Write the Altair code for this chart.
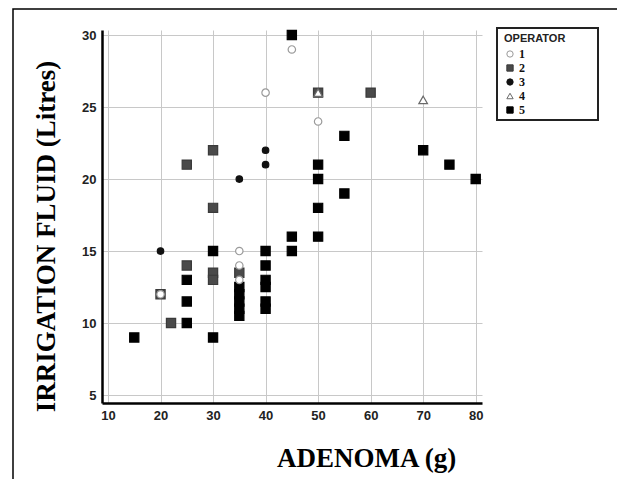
import altair as alt
import pandas as pd

# ---- data ----
operators = ["1", "2", "3", "4", "5"]

op1_x = [45, 40, 50, 35, 35, 35, 20]
op1_y = [29, 26, 24, 15, 14, 13, 12]

op2_x = [25, 30, 30, 60, 50, 25, 30, 30, 35, 22, 20]
op2_y = [21, 22, 18, 26, 26, 14, 13.5, 13, 13.5, 10, 12]

op3_x = [20, 35, 40, 40]
op3_y = [15, 20, 22, 21]

op4_x = [50, 70]
op4_y = [26, 25.5]

op5_x = [45, 15, 25, 25, 25, 30, 30, 35, 35, 35, 35, 35, 40, 40, 40, 40, 40, 40,
         45, 45, 50, 50, 50, 50, 55, 55, 70, 75, 80]
op5_y = [30, 9, 13, 11.5, 10, 15, 9, 12.5, 12, 11.5, 11, 10.5, 15, 14, 13, 12.5, 11.5, 11,
         16, 15, 21, 20, 18, 16, 23, 19, 22, 21, 20]

x_ticks = [10, 20, 30, 40, 50, 60, 70, 80]
y_ticks = [5, 10, 15, 20, 25, 30]

shape_range = ["circle", "square", "circle", "triangle-up", "square"]
fill_range = ["#ffffff", "#4a4a4a", "#111111", "#ffffff", "#000000"]
stroke_range = ["#9a9a9a", "#3a3a3a", "#111111", "#6a6a6a", "#000000"]
size_by_op = {"1": 55, "2": 85, "3": 42, "4": 75, "5": 85}

# drawing order: 5 first, then 2, 3, 4, 1 on top
rows = []
for k, (op, xs, ys) in enumerate([("5", op5_x, op5_y), ("2", op2_x, op2_y),
                                  ("3", op3_x, op3_y), ("4", op4_x, op4_y),
                                  ("1", op1_x, op1_y)]):
    for xv, yv in zip(xs, ys):
        rows.append({"adenoma": xv, "fluid": yv, "op": op, "layer": k,
                     "sz": size_by_op[op]})
df = pd.DataFrame(rows)

legend = alt.Legend(
    orient="none", legendX=402, legendY=3, padding=0,
    titleFont="Liberation Sans", titleFontWeight="bold", titleFontSize=11,
    titleColor="#222222", titlePadding=4,
    labelFont="Liberation Serif", labelFontWeight="bold", labelFontSize=12,
    labelColor="#111111", labelOffset=3,
    symbolSize=40, symbolStrokeWidth=1, rowPadding=2,
)

points = alt.Chart(df).mark_point(filled=True, opacity=1, strokeWidth=1.2).encode(
    x=alt.X("adenoma:Q",
            scale=alt.Scale(domain=[8.86, 81.2], nice=False, zero=False),
            axis=alt.Axis(values=x_ticks, title="ADENOMA (g)",
                          titleX=264, titleY=63, titleBaseline="alphabetic")),
    y=alt.Y("fluid:Q",
            scale=alt.Scale(domain=[4.45, 30.35], nice=False, zero=False),
            axis=alt.Axis(values=y_ticks, title="IRRIGATION FLUID (Litres)",
                          titleX=-48, titleY=206, titleBaseline="alphabetic")),
    shape=alt.Shape("op:N", scale=alt.Scale(domain=operators, range=shape_range),
                    title="OPERATOR", legend=legend),
    fill=alt.Fill("op:N", scale=alt.Scale(domain=operators, range=fill_range),
                  title="OPERATOR", legend=legend),
    stroke=alt.Stroke("op:N", scale=alt.Scale(domain=operators, range=stroke_range),
                      title="OPERATOR", legend=legend),
    size=alt.Size("sz:Q", scale=None, legend=None),
    order=alt.Order("layer:Q"),
)

# decorative frame and legend box
frame = alt.Chart(pd.DataFrame({"a": [0]})).mark_rect(
    fill=None, stroke="#000000", strokeWidth=1.5
).encode(x=alt.value(-89), x2=alt.value(560), y=alt.value(-21), y2=alt.value(500))

legend_box = alt.Chart(pd.DataFrame({"a": [0]})).mark_rect(
    fill=None, stroke="#222222", strokeWidth=2
).encode(x=alt.value(395), x2=alt.value(496), y=alt.value(-2), y2=alt.value(90))

chart = alt.layer(frame, legend_box, points).properties(
    width=380, height=373,
    autosize="none",
    padding={"left": 94, "top": 22, "right": 135, "bottom": 76},
).configure_view(stroke=None).configure_axis(
    domainColor="#000000", domainWidth=2.5,
    gridColor="#c8c8c8", gridWidth=1,
    ticks=False,
    labelFont="Liberation Sans", labelFontWeight="bold", labelFontSize=13,
    labelColor="#222222", labelPadding=6,
    titleFont="Liberation Serif", titleFontWeight="bold", titleFontSize=27,
    titleColor="#000000",
)

chart.save("out.html", embed_options={"renderer": "svg", "actions": False})
